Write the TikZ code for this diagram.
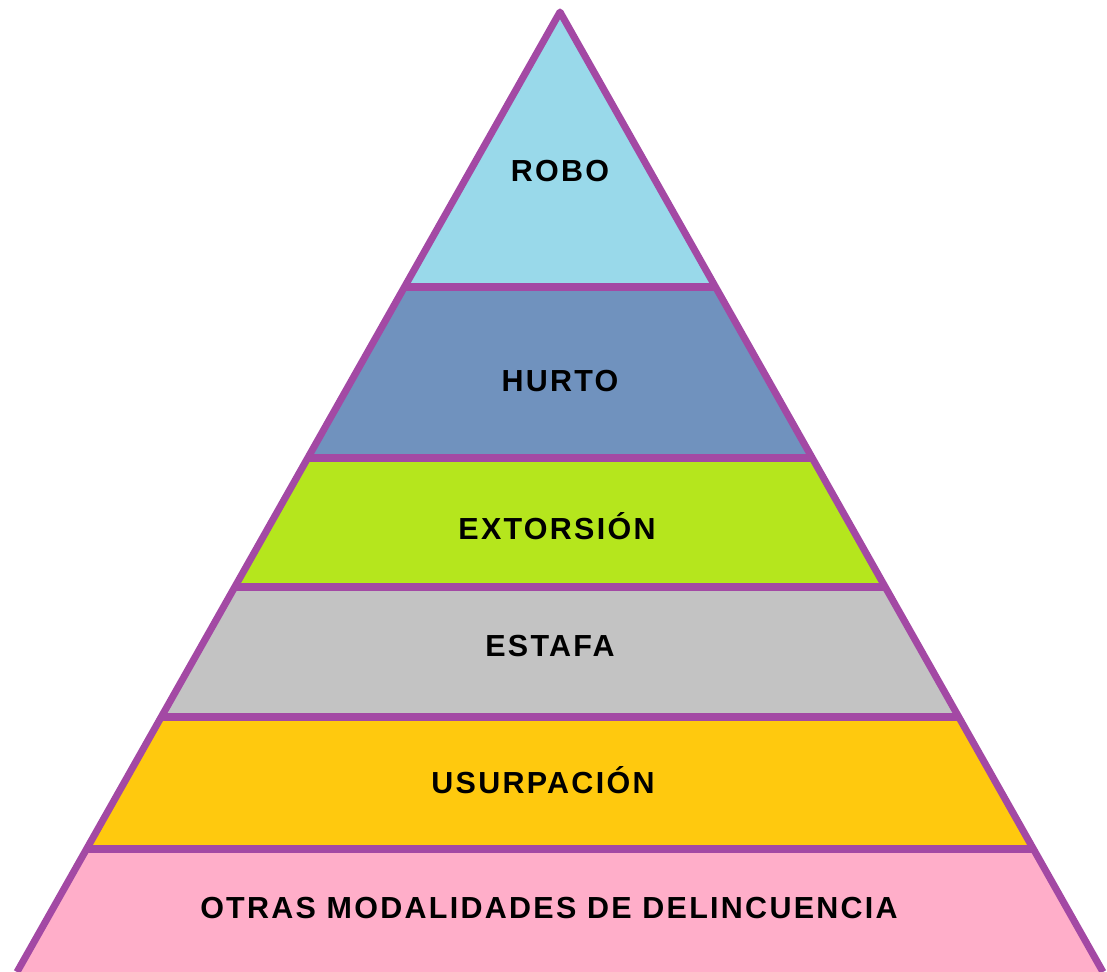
\documentclass[tikz,border=0pt]{standalone}
\usepackage{fontspec}
\setmainfont{Liberation Sans}
\usetikzlibrary{calc}

\definecolor{borde}{HTML}{A349A4}
\definecolor{robo}{HTML}{99D9EA}
\definecolor{hurto}{HTML}{7092BE}
\definecolor{extorsion}{HTML}{B5E61D}
\definecolor{estafa}{HTML}{C3C3C3}
\definecolor{usurpacion}{HTML}{FFC90E}
\definecolor{otras}{HTML}{FFAEC9}

\tikzset{
  nivel/.style={font=\bfseries\fontsize{26}{30}\selectfont\addfontfeature{LetterSpace=7.5},
                text=black, inner sep=0pt},
  linea/.style={draw=borde, line width=6pt, line join=round}
}

\begin{document}
\begin{tikzpicture}[x=0.03cm, y=-0.03cm]
    \useasboundingbox (0,0) rectangle (1107,972);
    % Apex and base corners
    \coordinate (A) at (560,12);
    \coordinate (BL) at (17,972);
    \coordinate (BR) at (1103,972);

    % Bands
    \foreach \t/\b/\c in {12/287/robo, 287/458/hurto, 458/587/extorsion,
                          587/717/estafa, 717/849/usurpacion, 849/972/otras}
    {
        \fill[\c] ($(A)!{(\t-12)/960}!(BL)$) -- ($(A)!{(\b-12)/960}!(BL)$)
                -- ($(A)!{(\b-12)/960}!(BR)$) -- ($(A)!{(\t-12)/960}!(BR)$) -- cycle;
    }

    % Dividing lines
    \foreach \y in {287,458,587,717,849}
    {
        \draw[linea] ($(A)!{(\y-12)/960}!(BL)$) -- ($(A)!{(\y-12)/960}!(BR)$);
    }

    % Outline
    \draw[linea] (BL) -- (A) -- (BR);

    % Labels
    \node[nivel] (robo) at (560,171) {ROBO};
    \node[nivel] (hurto) at (560,381) {HURTO};
    \node[nivel] (extorsion) at (557,526) {EXTORSIÓN};
    \node[nivel] (estafa) at (550,646) {ESTAFA};
    \node[nivel] (usurpacion) at (543,780) {USURPACIÓN};
    \node[nivel] (otras) at (549,908) {OTRAS MODALIDADES DE DELINCUENCIA};
\end{tikzpicture}
\end{document}
